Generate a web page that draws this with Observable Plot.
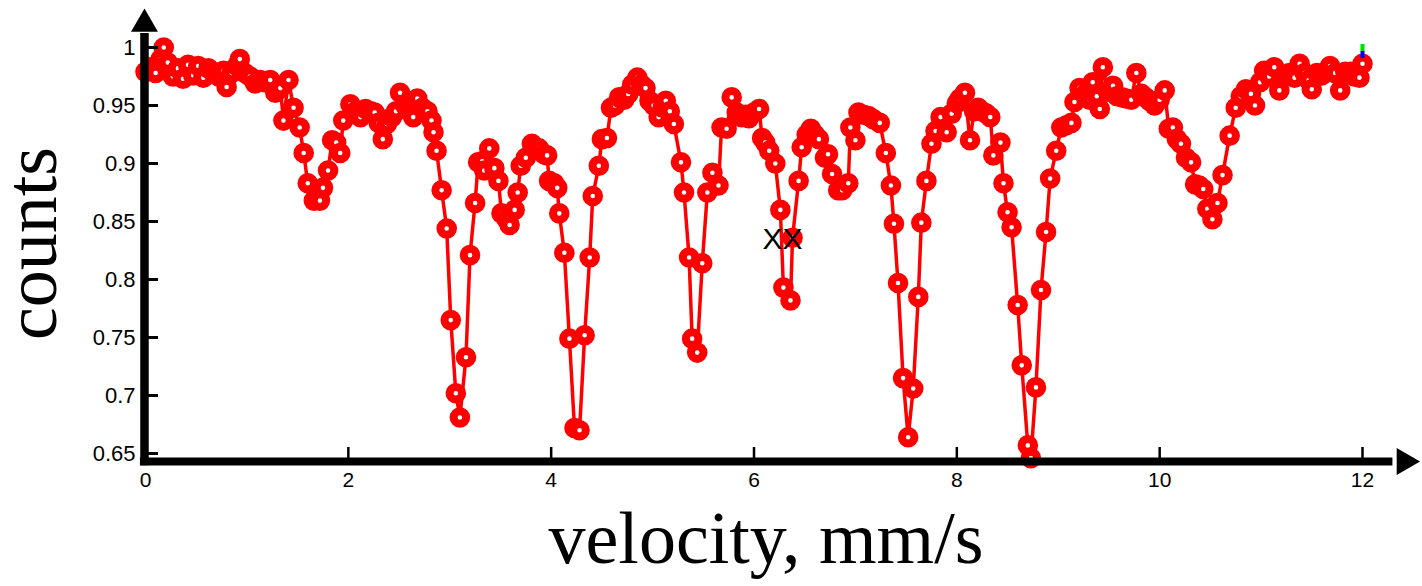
<!DOCTYPE html>
<html>
<head>
<meta charset="utf-8">
<script src="https://cdn.jsdelivr.net/npm/d3@7"></script>
<script src="https://cdn.jsdelivr.net/npm/@observablehq/plot@0.6"></script>
<style>
  html, body { margin: 0; padding: 0; background: #fff; }
  svg { display: block; }
</style>
</head>
<body>
<div id="chart"></div>
<script>
// Mössbauer spectrum: transmission counts vs. source velocity
const velocity = [
  0.00, 0.05, 0.10, 0.15, 0.18, 0.22, 0.27, 0.32, 0.37, 0.42, 0.47, 0.52, 0.57, 0.62, 0.67, 0.72,
  0.77, 0.80, 0.85, 0.90, 0.93, 0.98, 1.03, 1.08, 1.13, 1.18, 1.23, 1.28, 1.33, 1.36, 1.41, 1.46,
  1.52, 1.56, 1.60, 1.66, 1.72, 1.75, 1.80, 1.84, 1.88, 1.92, 1.95, 2.02, 2.07, 2.12, 2.17, 2.22,
  2.26, 2.30, 2.34, 2.38, 2.43, 2.47, 2.51, 2.56, 2.60, 2.64, 2.68, 2.73, 2.78, 2.82, 2.84, 2.87,
  2.92, 2.97, 3.01, 3.06, 3.10, 3.16, 3.20, 3.25, 3.28, 3.32, 3.34, 3.39, 3.44, 3.48, 3.51, 3.56,
  3.59, 3.64, 3.67, 3.70, 3.75, 3.81, 3.85, 3.88, 3.93, 3.96, 3.98, 4.03, 4.06, 4.08, 4.13, 4.18,
  4.23, 4.28, 4.33, 4.38, 4.41, 4.47, 4.50, 4.55, 4.59, 4.63, 4.67, 4.72, 4.76, 4.80, 4.85, 4.89,
  4.93, 4.97, 5.01, 5.06, 5.10, 5.13, 5.17, 5.21, 5.28, 5.31, 5.36, 5.39, 5.44, 5.49, 5.54, 5.59,
  5.65, 5.68, 5.73, 5.78, 5.83, 5.88, 5.92, 5.95, 6.00, 6.05, 6.08, 6.11, 6.15, 6.21, 6.26, 6.29,
  6.36, 6.38, 6.44, 6.47, 6.52, 6.56, 6.60, 6.64, 6.70, 6.73, 6.77, 6.83, 6.87, 6.93, 6.95, 7.00,
  7.03, 7.08, 7.13, 7.18, 7.24, 7.30, 7.35, 7.38, 7.42, 7.47, 7.52, 7.57, 7.62, 7.65, 7.70, 7.75,
  7.79, 7.84, 7.90, 7.95, 8.00, 8.03, 8.08, 8.13, 8.17, 8.21, 8.25, 8.29, 8.33, 8.36, 8.43, 8.46,
  8.50, 8.54, 8.60, 8.64, 8.70, 8.73, 8.78, 8.83, 8.88, 8.92, 8.98, 9.03, 9.08, 9.13, 9.16, 9.21,
  9.27, 9.31, 9.34, 9.38, 9.41, 9.44, 9.49, 9.54, 9.58, 9.63, 9.67, 9.72, 9.77, 9.82, 9.86, 9.90,
  9.95, 10.00, 10.05, 10.09, 10.13, 10.17, 10.21, 10.26, 10.31, 10.35, 10.39, 10.43, 10.47, 10.52, 10.57, 10.62,
  10.69, 10.75, 10.80, 10.85, 10.90, 10.94, 10.99, 11.03, 11.08, 11.13, 11.18, 11.23, 11.28, 11.33, 11.38, 11.43,
  11.47, 11.50, 11.55, 11.60, 11.65, 11.68, 11.73, 11.78, 11.83, 11.88, 11.92, 11.97, 12.00
];

const counts = [
  0.979, 0.983, 0.978, 0.990, 1.000, 0.987, 0.975, 0.982, 0.973, 0.985, 0.976, 0.984, 0.974, 0.982, 0.979, 0.975,
  0.980, 0.966, 0.978, 0.984, 0.990, 0.978, 0.975, 0.969, 0.972, 0.970, 0.972, 0.961, 0.965, 0.937, 0.972, 0.948,
  0.931, 0.909, 0.883, 0.868, 0.868, 0.879, 0.894, 0.920, 0.918, 0.909, 0.937, 0.951, 0.945, 0.940, 0.947, 0.945,
  0.944, 0.935, 0.921, 0.934, 0.940, 0.945, 0.961, 0.950, 0.945, 0.940, 0.956, 0.948, 0.945, 0.937, 0.927, 0.911,
  0.877, 0.844, 0.765, 0.702, 0.681, 0.733, 0.821, 0.866, 0.901, 0.902, 0.894, 0.913, 0.896, 0.885, 0.857, 0.852,
  0.847, 0.860, 0.875, 0.898, 0.905, 0.917, 0.912, 0.913, 0.908, 0.907, 0.885, 0.883, 0.879, 0.857, 0.823, 0.749,
  0.672, 0.670, 0.752, 0.819, 0.872, 0.898, 0.921, 0.922, 0.948, 0.950, 0.957, 0.955, 0.960, 0.968, 0.974, 0.968,
  0.965, 0.954, 0.950, 0.940, 0.948, 0.954, 0.945, 0.934, 0.901, 0.875, 0.819, 0.749, 0.737, 0.814, 0.875, 0.892,
  0.881, 0.931, 0.930, 0.957, 0.944, 0.940, 0.942, 0.939, 0.944, 0.947, 0.922, 0.918, 0.911, 0.900, 0.860, 0.793,
  0.782, 0.836, 0.885, 0.914, 0.925, 0.930, 0.925, 0.921, 0.905, 0.908, 0.891, 0.877, 0.877, 0.883, 0.931, 0.920,
  0.944, 0.942, 0.941, 0.938, 0.935, 0.909, 0.881, 0.848, 0.797, 0.715, 0.664, 0.706, 0.785, 0.849, 0.885, 0.917,
  0.928, 0.940, 0.927, 0.943, 0.952, 0.956, 0.961, 0.920, 0.945, 0.948, 0.945, 0.943, 0.940, 0.907, 0.918, 0.883,
  0.858, 0.845, 0.778, 0.726, 0.657, 0.646, 0.707, 0.791, 0.841, 0.887, 0.911, 0.931, 0.933, 0.935, 0.953, 0.965,
  0.960, 0.955, 0.970, 0.958, 0.947, 0.983, 0.962, 0.967, 0.958, 0.957, 0.956, 0.955, 0.978, 0.960, 0.957, 0.954,
  0.950, 0.955, 0.963, 0.930, 0.931, 0.921, 0.917, 0.905, 0.901, 0.882, 0.881, 0.878, 0.861, 0.852, 0.866, 0.890,
  0.924, 0.948, 0.958, 0.964, 0.960, 0.950, 0.970, 0.980, 0.975, 0.983, 0.963, 0.975, 0.978, 0.974, 0.986, 0.978,
  0.972, 0.964, 0.978, 0.976, 0.980, 0.984, 0.978, 0.963, 0.979, 0.979, 0.975, 0.974, 0.986
];

const xTicks = [0, 2, 4, 6, 8, 10, 12];
const xTickLabels = ["0", "2", "4", "6", "8", "10", "12"];
const yTicks = [0.65, 0.7, 0.75, 0.8, 0.85, 0.9, 0.95, 1];
const yTickLabels = ["0.65", "0.7", "0.75", "0.8", "0.85", "0.9", "0.95", "1"];

const xLabel = "velocity, mm/s";
const yLabel = "counts";
const markerLabel = {v: 6.28, c: 0.8345, text: "XX"};

// small two-colour cursor at the end of the scan
const cursorColors = ["#00e000", "#0000ff"];
const cursorTop = [1.0026, 0.9966];
const cursorBottom = [0.9966, 0.9905];

const spectrum = velocity.map((v, i) => ({v, c: counts[i]}));
const cursor = cursorColors.map((color, i) => ({color, y1: cursorBottom[i], y2: cursorTop[i]}));

// axis geometry (in data units)
const axisY = 0.6431;     // value where the horizontal axis sits
const axisX = -0.01;      // velocity where the vertical axis sits
const yArrow = 1.0202;    // centre of the upward arrowhead
const xArrow = 12.414;    // centre of the rightward arrowhead

const sans = "Liberation Sans, Arial, sans-serif";
const serif = "Liberation Serif, Times New Roman, serif";

const chart = Plot.plot({
  width: 1422,
  height: 586,
  marginLeft: 145,
  marginRight: 60,
  marginTop: 47,
  marginBottom: 133,
  x: {domain: [0, 12], axis: null},
  y: {domain: [0.65, 1], axis: null},
  style: {background: "#fff"},
  marks: [
    // data
    Plot.line(spectrum, {x: "v", y: "c", stroke: "#ff0000", strokeWidth: 3.5}),
    Plot.dot(spectrum, {x: "v", y: "c", r: 6.3, stroke: "#ff0000", strokeWidth: 8, fill: "#fff"}),

    // axis lines with arrowheads
    Plot.ruleY([axisY], {x1: -0.05, x2: 12.3, stroke: "#000", strokeWidth: 8}),
    Plot.ruleX([axisX], {y1: 0.6395, y2: 1.012, stroke: "#000", strokeWidth: 8.5}),
    Plot.dot([0], {x: axisX, y: yArrow, symbol: "triangle", r: 10, fill: "#000", stroke: "none"}),
    Plot.dot([0], {x: xArrow, y: axisY, symbol: "triangle", r: 10, rotate: 90, fill: "#000", stroke: "none"}),

    // inward tick marks
    Plot.ruleX(xTicks.slice(1), {x: d => d, y1: axisY, y2: 0.6552, stroke: "#000", strokeWidth: 2.5}),
    Plot.ruleY(yTicks, {y: d => d, x1: axisX, x2: 0.128, stroke: "#000", strokeWidth: 3}),

    // tick labels
    Plot.text(xTicks, {x: d => d, y: 0.65, dy: 27, text: (d, i) => xTickLabels[i],
      fontSize: 21, fontFamily: sans, fill: "#000", lineAnchor: "middle"}),
    Plot.text(yTicks, {x: 0, y: d => d, dx: -10, text: (d, i) => yTickLabels[i],
      fontSize: 22, fontFamily: sans, fill: "#000", textAnchor: "end", lineAnchor: "middle"}),

    // axis titles
    Plot.text([xLabel], {frameAnchor: "bottom", dx: 12, dy: 109, text: d => d,
      fontSize: 74, fontFamily: serif, fill: "#000", lineAnchor: "bottom"}),
    Plot.text([yLabel], {frameAnchor: "left", dx: -90, dy: -7, rotate: -90, text: d => d,
      fontSize: 74, fontFamily: serif, fill: "#000", textAnchor: "middle", lineAnchor: "bottom"}),

    // annotation and end-of-scan cursor
    Plot.text([markerLabel], {x: "v", y: "c", text: "text", fontSize: 30, fontFamily: sans,
      fill: "#000", lineAnchor: "middle"}),
    Plot.rect(cursor, {x1: 11.985, x2: 12.025, y1: "y1", y2: "y2", fill: "color"})
  ]
});

document.getElementById("chart").appendChild(chart);
</script>
</body>
</html>
